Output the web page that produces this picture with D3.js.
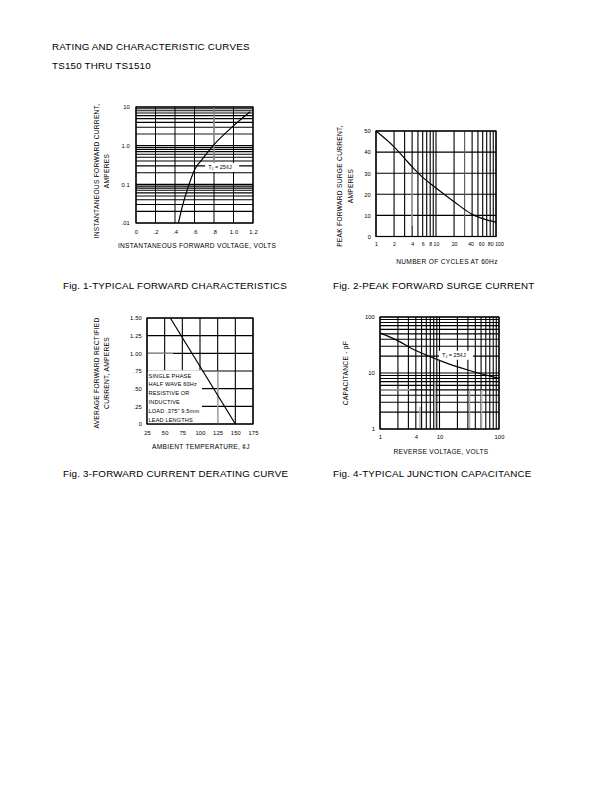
<!DOCTYPE html>
<html>
<head>
<meta charset="utf-8">
<script src="https://cdn.jsdelivr.net/npm/d3@7"></script>
<style>
  body { margin: 0; background: #fff; }
  svg { display: block; }
  text { font-family: "Liberation Sans", Arial, sans-serif; fill: #000; }
  .tick text { font-size: 5.8px; letter-spacing: 0.15px; }
  .ttl { font-size: 6.6px; letter-spacing: 0.3px; }
  .cap { font-size: 9.8px; letter-spacing: 0.2px; }
</style>
</head>
<body>
<script>
// ---- data ----
// Fig 1: forward voltage (V) vs forward current (A)
const fig1Volts = [0.435, 0.47, 0.52, 0.605, 0.675, 0.79, 0.99, 1.17];
const fig1Amps  = [0.01, 0.024, 0.065, 0.25, 0.43, 1.0, 3.1, 7.5];
const fig1XTicks = [0, 0.2, 0.4, 0.6, 0.8, 1.0, 1.2];
const fig1XLabels = ["0", ".2", ".4", ".6", ".8", "1.0", "1.2"];
const fig1YTicks = [10, 1, 0.1, 0.01];
const fig1YLabels = ["10", "1.0", "0.1", ".01"];

// Fig 2: number of cycles vs peak surge current (A)
const fig2Cycles = [1, 2, 3, 4, 6, 10, 20, 40, 60, 100];
const fig2Amps   = [50, 42.5, 37, 33, 28, 23, 16.5, 10.5, 8.5, 6.8];
const fig2XTicks = [1, 2, 4, 6, 8, 10, 20, 40, 60, 80, 100];
const fig2YTicks = [0, 10, 20, 30, 40, 50];

// Fig 3: ambient temperature vs average rectified current
const fig3Temp = [58, 150];
const fig3Amps = [1.5, 0];
const fig3XTicks = [25, 50, 75, 100, 125, 150, 175];
const fig3YTicks = [0, 0.25, 0.5, 0.75, 1.0, 1.25, 1.5];
const fig3YLabels = ["0", ".25", ".50", ".75", "1.00", "1.25", "1.50"];
const fig3Note = ["SINGLE PHASE", "HALF WAVE 60Hz", "RESISTIVE OR", "INDUCTIVE",
                  "LOAD .375\" 9.5mm", "LEAD LENGTHS"];

// Fig 4: reverse voltage vs junction capacitance (pF)
const fig4Volts = [1, 2.17, 3.4, 5.7, 11.6, 30, 100];
const fig4Cap   = [52, 36, 27.4, 21.4, 15.8, 11.3, 8];
const fig4XTicks = [1, 4, 10, 100];
const fig4YTicks = [1, 10, 100];

const svg = d3.select("body").append("svg")
  .attr("width", 612).attr("height", 792);

function logGrid(domain) {
  const out = [];
  for (let d = domain[0]; d < domain[1]; d *= 10) {
    for (let k = 1; k <= 9; k++) out.push(d * k);
  }
  out.push(domain[1]);
  return out;
}

function vline(g, xp, y0, y1, color, w) {
  g.append("line").attr("x1", xp).attr("x2", xp).attr("y1", y0).attr("y2", y1)
    .attr("stroke", color || "#000").attr("stroke-width", w || 1);
}
function hline(g, yp, x0, x1, color, w) {
  g.append("line").attr("x1", x0).attr("x2", x1).attr("y1", yp).attr("y2", yp)
    .attr("stroke", color || "#000").attr("stroke-width", w || 1);
}

function axes(g, x, y, xt, xl, yt, yl, box, padX, padY) {
  const ax = d3.axisBottom(x).tickValues(xt).tickSize(0).tickPadding(padX)
    .tickFormat((d, i) => xl ? xl[i] : d);
  const ay = d3.axisLeft(y).tickValues(yt).tickSize(0).tickPadding(padY)
    .tickFormat((d, i) => yl ? yl[i] : d);
  const gx = g.append("g").attr("transform", "translate(0," + box.y1 + ")").call(ax)
    .call(s => s.select(".domain").remove());
  g.append("g").attr("transform", "translate(" + box.x0 + ",0)").call(ay)
    .call(s => s.select(".domain").remove());
  return gx;
}

function frame(g, box) {
  g.append("rect").attr("x", box.x0).attr("y", box.y0)
    .attr("width", box.x1 - box.x0).attr("height", box.y1 - box.y0)
    .attr("fill", "none").attr("stroke", "#000").attr("stroke-width", 1.2);
}

function yTitle(lines, xs, cy) {
  lines.forEach((t, i) => {
    svg.append("text").attr("class", "ttl")
      .attr("transform", "translate(" + xs[i] + "," + cy + ") rotate(-90)")
      .attr("text-anchor", "middle").text(t);
  });
}

function tjLabel(g, xp, yp) {
  g.append("rect").attr("x", xp - 3).attr("y", yp - 6).attr("width", 34).attr("height", 9)
    .attr("fill", "#fff");
  const t = g.append("text").attr("x", xp).attr("y", yp).style("font-size", "5.6px");
  t.append("tspan").text("T");
  t.append("tspan").attr("dy", 1.5).style("font-size", "3.6px").text("J");
  t.append("tspan").attr("dy", -1.5).text(" = 25¢J");
}

const lineGen = (x, y) => d3.line().x(d => x(d[0])).y(d => y(d[1])).curve(d3.curveMonotoneX);

// ---------- Fig 1 ----------
{
  const box = {x0: 136, x1: 253, y0: 107, y1: 223};
  const x = d3.scaleLinear().domain([0, 1.2]).range([box.x0, box.x1]);
  const y = d3.scaleLog().domain([0.01, 10]).range([box.y1, box.y0]);
  const g = svg.append("g");
  logGrid([0.01, 10]).forEach(v => hline(g, y(v), box.x0, box.x1, "#000", 1.1));
  hline(g, y(2), box.x0 + 1, box.x1 - 1, "#999", 1.1);
  fig1XTicks.forEach(v => vline(g, x(v), box.y0, box.y1, "#000", 1));
  vline(g, x(0.8), box.y0, y(0.32), "#aaa", 1.3);
  frame(g, box);
  tjLabel(g, x(0.74), y(0.25));
  g.append("path").datum(d3.zip(fig1Volts, fig1Amps)).attr("d", lineGen(x, y))
    .attr("fill", "none").attr("stroke", "#000").attr("stroke-width", 1.2);
  axes(g, x, y, fig1XTicks, fig1XLabels, fig1YTicks, fig1YLabels, box, 7, 6);
  svg.append("text").attr("class", "ttl").attr("x", 197).attr("y", 248)
    .attr("text-anchor", "middle").text("INSTANTANEOUS FORWARD VOLTAGE, VOLTS");
  yTitle(["INSTANTANEOUS FORWARD CURRENT,", "AMPERES"], [99, 109], 171);
}

// ---------- Fig 2 ----------
{
  const box = {x0: 376, x1: 496, y0: 131, y1: 236.5};
  const x = d3.scaleLog().domain([1, 100]).range([box.x0, box.x1]);
  const y = d3.scaleLinear().domain([0, 50]).range([box.y1, box.y0]);
  const g = svg.append("g");
  fig2YTicks.forEach(v => hline(g, y(v), box.x0, box.x1, "#000", 1.1));
  logGrid([1, 100]).forEach(v => vline(g, x(v), box.y0, box.y1, v === 30 ? "#555" : "#000", 1.1));
  vline(g, x(4), y(30), y(5), "#aaa", 1.4);
  frame(g, box);
  g.append("path").datum(d3.zip(fig2Cycles, fig2Amps)).attr("d", lineGen(x, y))
    .attr("fill", "none").attr("stroke", "#000").attr("stroke-width", 1.2);
  const gx = axes(g, x, y, fig2XTicks, null, fig2YTicks, null, box, 6, 5);
  // the crowded labels at the right end sit a little apart, as in the print
  const nudge = {40: -1.5, 60: -1.5, 80: 0, 100: 3};
  gx.selectAll(".tick text")
    .style("font-size", "5.2px").style("letter-spacing", "0px")
    .attr("dx", d => nudge[d] || 0);
  svg.append("text").attr("class", "ttl").attr("x", 447).attr("y", 264)
    .attr("text-anchor", "middle").text("NUMBER OF CYCLES AT 60Hz");
  yTitle(["PEAK FORWARD SURGE CURRENT,", "AMPERES"], [342, 353], 186);
}

// ---------- Fig 3 ----------
{
  const box = {x0: 147, x1: 253, y0: 318, y1: 424};
  const x = d3.scaleLinear().domain([25, 175]).range([box.x0, box.x1]);
  const y = d3.scaleLinear().domain([0, 1.5]).range([box.y1, box.y0]);
  const g = svg.append("g");
  fig3YTicks.forEach(v => hline(g, y(v), box.x0, box.x1, "#000", 1.1));
  fig3XTicks.forEach(v => vline(g, x(v), box.y0, box.y1, "#000", 1.1));
  // white panel behind the note
  g.append("rect").attr("x", box.x0 + 0.6).attr("y", y(0.76))
    .attr("width", x(102) - box.x0).attr("height", box.y1 - y(0.76) - 0.6)
    .attr("fill", "#fff");
  hline(g, y(1.0), box.x0, x(62), "#999", 1.2);
  vline(g, x(125), y(0.75), box.y1, "#aaa", 1.4);
  frame(g, box);
  fig3Note.forEach((t, i) => {
    g.append("text").attr("x", box.x0 + 1.5).attr("y", y(0.75) + 6.5 + i * 8.9)
      .style("font-size", "5.6px").style("letter-spacing", "0.15px").text(t);
  });
  g.append("path").datum(d3.zip(fig3Temp, fig3Amps)).attr("d", lineGen(x, y))
    .attr("fill", "none").attr("stroke", "#000").attr("stroke-width", 1.2);
  axes(g, x, y, fig3XTicks, null, fig3YTicks, fig3YLabels, box, 7, 5);
  svg.append("text").attr("class", "ttl").attr("x", 201).attr("y", 449)
    .attr("text-anchor", "middle").text("AMBIENT TEMPERATURE, ¢J");
  yTitle(["AVERAGE FORWARD RECTIFIED", "CURRENT, AMPERES"], [99, 109], 373);
}

// ---------- Fig 4 ----------
{
  const box = {x0: 380, x1: 499, y0: 317, y1: 429};
  const x = d3.scaleLog().domain([1, 100]).range([box.x0, box.x1]);
  const y = d3.scaleLog().domain([1, 100]).range([box.y1, box.y0]);
  const g = svg.append("g");
  logGrid([1, 100]).forEach(v => hline(g, y(v), box.x0, box.x1, "#000", 1.1));
  logGrid([1, 100]).forEach(v => vline(g, x(v), box.y0, box.y1, "#000", 1.1));
  hline(g, y(5), box.x0, x(3.2), "#aaa", 1.4);
  [[4.7, 2.5], [8.4, 7], [32, 5], [51, 5]].forEach(p => vline(g, x(p[0]), y(p[1]), box.y1, "#aaa", 1.4));
  frame(g, box);
  tjLabel(g, x(11), y(19.5));
  g.append("path").datum(d3.zip(fig4Volts, fig4Cap)).attr("d", lineGen(x, y))
    .attr("fill", "none").attr("stroke", "#000").attr("stroke-width", 1.2);
  axes(g, x, y, fig4XTicks, null, fig4YTicks, null, box, 6, 5);
  svg.append("text").attr("class", "ttl").attr("x", 441).attr("y", 454)
    .attr("text-anchor", "middle").text("REVERSE VOLTAGE, VOLTS");
  yTitle(["CAPACITANCE - pF"], [348], 373);
}

// ---------- header and captions ----------
svg.append("text").attr("class", "cap").attr("x", 52).attr("y", 50).text("RATING AND CHARACTERISTIC CURVES");
svg.append("text").attr("class", "cap").attr("x", 52).attr("y", 69).text("TS150 THRU TS1510");
svg.append("text").attr("class", "cap").attr("x", 63).attr("y", 289).text("Fig. 1-TYPICAL FORWARD CHARACTERISTICS");
svg.append("text").attr("class", "cap").attr("x", 333).attr("y", 289).text("Fig. 2-PEAK FORWARD SURGE CURRENT");
svg.append("text").attr("class", "cap").attr("x", 63).attr("y", 477).text("Fig. 3-FORWARD CURRENT DERATING CURVE");
svg.append("text").attr("class", "cap").attr("x", 333).attr("y", 477).text("Fig. 4-TYPICAL JUNCTION CAPACITANCE");
</script>
</body>
</html>
